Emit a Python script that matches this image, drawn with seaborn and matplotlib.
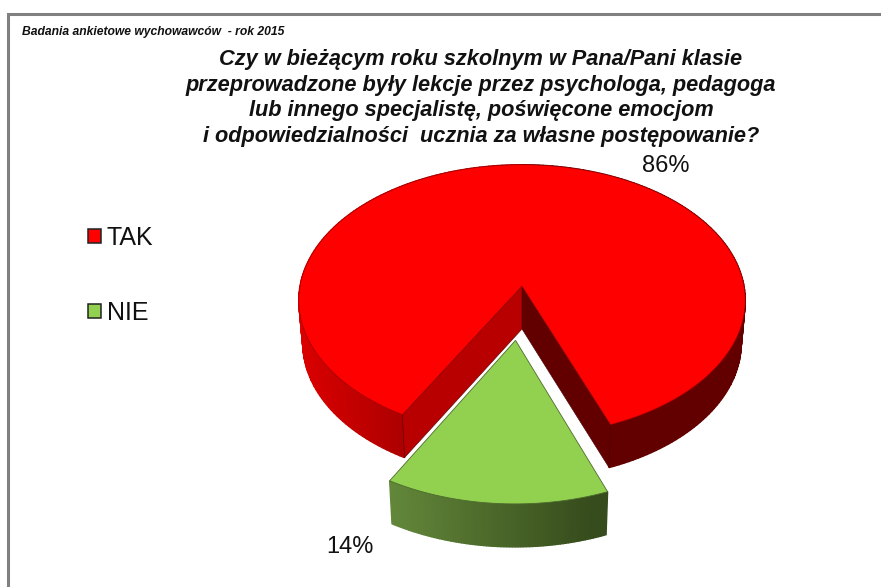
import numpy as np
import seaborn as sns
import matplotlib.pyplot as plt
from matplotlib.patches import Patch
from matplotlib.colors import to_rgb

categories = ["TAK", "NIE"]
shares = [86, 14]
share_labels = ["86%", "14%"]
note = "Badania ankietowe wychowawców  - rok 2015"
title_lines = [
    "Czy w bieżącym roku szkolnym w Pana/Pani klasie",
    "przeprowadzone były lekcje przez psychologa, pedagoga",
    "lub innego specjalistę, poświęcone emocjom",
    "i odpowiedzialności  ucznia za własne postępowanie?",
]

sns.set_theme(style="white")
plt.rcParams["font.family"] = ["Liberation Sans", "DejaVu Sans"]
palette = sns.color_palette(["#ff0000", "#92d050"])

# pie geometry, in pixels of the picture
CX, CY = 522, 286
RX, RY = 222, 134
PERSP = 0.105
DEPTH = 43
BOTTOM_SHRINK = 0.982
FIRST_ANGLE = 21.1
EXPLODE = 0.39


def project(u, v):
    w = 1 - PERSP * v
    return CX + RX * u / w, CY + RY * v / w


def bottom(x, y):
    return CX + (x - CX) * BOTTOM_SHRINK, y + DEPTH


def arc(start, end, off_u=0.0, off_v=0.0, n=240):
    phi = np.radians(np.linspace(start, end, n))
    return project(np.sin(phi) + off_u, np.cos(phi) + off_v)


def mix(c1, c2, t):
    return tuple(a + (b - a) * t for a, b in zip(to_rgb(c1), to_rgb(c2)))


def draw_wall(ax, xs, ys, shade):
    bx, by = bottom(xs, ys)
    for i in range(len(xs) - 1):
        col = shade((xs[i] + xs[i + 1]) / 2)
        ax.fill([xs[i], xs[i + 1], bx[i + 1], bx[i]],
                [ys[i], ys[i + 1], by[i + 1], by[i]],
                color=col, lw=1.0, zorder=2)


def red_shade(x):
    if x < CX:
        return mix("#dc0000", "#ad0000", np.clip((x - 298) / 105, 0, 1))
    return "#620000"


def green_shade(x):
    return mix("#63883a", "#364c1c", np.clip((x - 387) / 205, 0, 1))


fig, ax = plt.subplots(figsize=(8.81, 5.87), dpi=100)
fig.subplots_adjust(0, 0, 1, 1)
ax.set_xlim(0, 881)
ax.set_ylim(587, 0)
ax.axis("off")

# grey frame, open on the right and at the bottom
ax.plot([8, 8, 881], [587, 14, 14], color="#808080", lw=2.2, zorder=1,
        solid_joinstyle="miter")

sweep = [s / sum(shares) * 360 for s in shares]
tak_start, tak_end = FIRST_ANGLE, FIRST_ANGLE + sweep[0]
nie_start, nie_end = tak_end, tak_end + sweep[1]

# TAK slice
xs, ys = arc(tak_start, tak_end)
draw_wall(ax, xs, ys, red_shade)
ax_apex = project(0, 0)
ap_b = bottom(*ax_apex)
for end, col in [(0, "#620000"), (-1, "#b90000")]:
    ex, ey = xs[end], ys[end]
    ebx, eby = bottom(ex, ey)
    ax.fill([ax_apex[0], ex, ebx, ap_b[0]], [ax_apex[1], ey, eby, ap_b[1]],
            facecolor=col, edgecolor="#4a0000", lw=0.4, zorder=3)
ax.fill(np.r_[ax_apex[0], xs], np.r_[ax_apex[1], ys], facecolor=palette[0],
        edgecolor="#a00000", lw=0.5, zorder=4)

# NIE slice, pulled out of the pie
mid = np.radians((nie_start + nie_end) / 2)
off_u, off_v = EXPLODE * np.sin(mid), EXPLODE * np.cos(mid)
gx, gy = arc(nie_start, nie_end, off_u, off_v, n=80)
draw_wall(ax, gx, gy, green_shade)
g_apex = project(off_u, off_v)
ax.fill(np.r_[g_apex[0], gx], np.r_[g_apex[1], gy], facecolor=palette[1],
        edgecolor="#4d6b2c", lw=0.6, zorder=4)

# texts
ax.text(22, 32, note, fontsize=8.7, fontweight="bold", fontstyle="italic",
        color="#111111", va="center", ha="left")
for line, y in zip(title_lines, [59.5, 85, 110.5, 136.5]):
    ax.text(481, y, line, fontsize=15.7, fontweight="bold", fontstyle="italic",
            color="#111111", va="center", ha="center")
ax.text(666, 166, share_labels[0], fontsize=17, color="#111111", va="center", ha="center")
ax.text(350, 547, share_labels[1], fontsize=17, color="#111111", va="center", ha="center")

handles = [Patch(facecolor=c, edgecolor="#222222", lw=1.1) for c in palette]
ax.legend(handles, categories, loc="upper left", bbox_to_anchor=(0.1, 0.6155),
          frameon=False, fontsize=18, labelcolor="#111111",
          handlelength=0.5, handleheight=0.5, handletextpad=0.24,
          labelspacing=2.05, borderpad=0, borderaxespad=0)

fig.savefig("out.png", dpi=100)
